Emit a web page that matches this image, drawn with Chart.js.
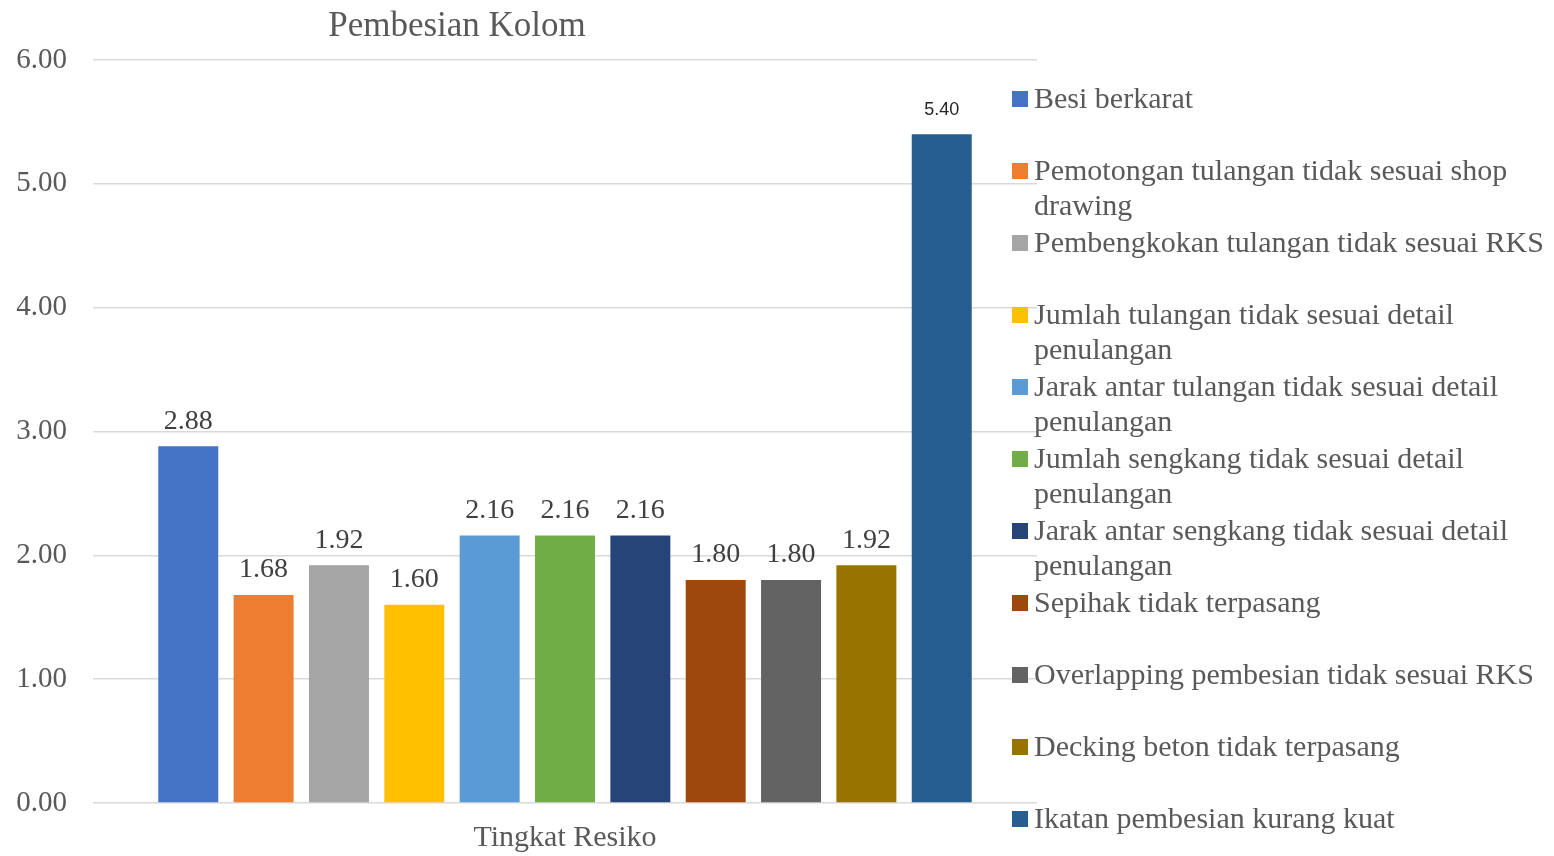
<!DOCTYPE html>
<html>
<head>
<meta charset="utf-8">
<script src="https://cdn.jsdelivr.net/npm/chart.js@4"></script>
<style>
  body { margin: 0; background: #fff; }
  #wrap { position: relative; width: 1554px; height: 856px; }
  #legend { position: absolute; left: 1012px; top: 80px; width: 542px;
    font-family: 'Liberation Serif', 'Times New Roman', serif; font-size: 30px; color: #595959; }
  .item { position: relative; height: 72px; line-height: 35px; padding-left: 22px; white-space: normal; }
  .item span.box { position: absolute; left: 0; top: 11px; width: 16px; height: 16px; }
</style>
</head>
<body>
<div id="wrap">
  <canvas id="chart" width="1554" height="856"></canvas>
  <div id="legend"></div>
</div>
<script>
var chartTitle = 'Pembesian Kolom';
var categories = ['Tingkat Resiko'];
var seriesNames = [
  'Besi berkarat',
  'Pemotongan tulangan tidak sesuai shop drawing',
  'Pembengkokan tulangan tidak sesuai RKS',
  'Jumlah tulangan tidak sesuai detail penulangan',
  'Jarak antar tulangan tidak sesuai detail penulangan',
  'Jumlah sengkang tidak sesuai detail penulangan',
  'Jarak antar sengkang tidak sesuai detail penulangan',
  'Sepihak tidak terpasang',
  'Overlapping pembesian tidak sesuai RKS',
  'Decking beton tidak terpasang',
  'Ikatan pembesian kurang kuat'
];
var seriesValues = [2.88, 1.68, 1.92, 1.60, 2.16, 2.16, 2.16, 1.80, 1.80, 1.92, 5.40];
var seriesColors = ['#4472C4', '#ED7D31', '#A5A5A5', '#FFC000', '#5B9BD5', '#70AD47',
  '#264478', '#9E480E', '#636363', '#997300', '#255E91'];

var serif = "'Liberation Serif', 'Times New Roman', serif";

var datasets = seriesNames.map(function (name, i) {
  return {
    label: name,
    data: [seriesValues[i]],
    backgroundColor: seriesColors[i],
    barPercentage: 0.796,
    categoryPercentage: 0.878
  };
});

// values above the bars
var valueLabels = {
  id: 'valueLabels',
  afterDatasetsDraw: function (chart) {
    var ctx = chart.ctx;
    ctx.save();
    ctx.textAlign = 'center';
    ctx.textBaseline = 'middle';
    chart.data.datasets.forEach(function (ds, i) {
      var bar = chart.getDatasetMeta(i).data[0];
      if (i === chart.data.datasets.length - 1) {
        ctx.font = "18px 'Liberation Sans', Arial, sans-serif";
        ctx.fillStyle = '#262626';
        ctx.fillText(ds.data[0].toFixed(2), bar.x, bar.y - 24);
      } else {
        ctx.font = '28px ' + serif;
        ctx.fillStyle = '#404040';
        ctx.fillText(ds.data[0].toFixed(2), bar.x, bar.y - 25);
      }
    });
    ctx.restore();
  }
};

// title sits left of the plot centre, like the original
var titlePlugin = {
  id: 'offsetTitle',
  afterDraw: function (chart) {
    var ctx = chart.ctx;
    ctx.save();
    ctx.font = '35px ' + serif;
    ctx.fillStyle = '#595959';
    ctx.textAlign = 'center';
    ctx.textBaseline = 'middle';
    ctx.fillText(chartTitle, 457, 27);
    ctx.restore();
  }
};

var chart = new Chart(document.getElementById('chart'), {
  type: 'bar',
  data: { labels: categories, datasets: datasets },
  plugins: [valueLabels, titlePlugin],
  options: {
    responsive: false,
    animation: false,
    layout: { padding: { left: 0, right: 517, top: 60, bottom: 0 } },
    plugins: {
      legend: { display: false },
      tooltip: { enabled: false },
      title: { display: false }
    },
    scales: {
      x: {
        grid: { display: false, drawTicks: false },
        border: { display: false },
        ticks: { color: '#595959', font: { family: serif, size: 30 }, padding: 17 },
        afterFit: function (scale) { scale.height = 53; }
      },
      y: {
        min: 0,
        max: 6,
        grid: { color: '#d9d9d9', lineWidth: 1.5, drawTicks: false },
        border: { display: false },
        ticks: {
          stepSize: 1,
          color: '#595959',
          font: { family: serif, size: 29 },
          padding: 26,
          callback: function (v) { return v.toFixed(2); }
        },
        afterFit: function (scale) { scale.width = 93; }
      }
    }
  }
});

// legend with wrapping text, built from the datasets
var legend = document.getElementById('legend');
chart.data.datasets.forEach(function (ds) {
  var item = document.createElement('div');
  item.className = 'item';
  var box = document.createElement('span');
  box.className = 'box';
  box.style.background = ds.backgroundColor;
  item.appendChild(box);
  item.appendChild(document.createTextNode(ds.label));
  legend.appendChild(item);
});
</script>
</body>
</html>
